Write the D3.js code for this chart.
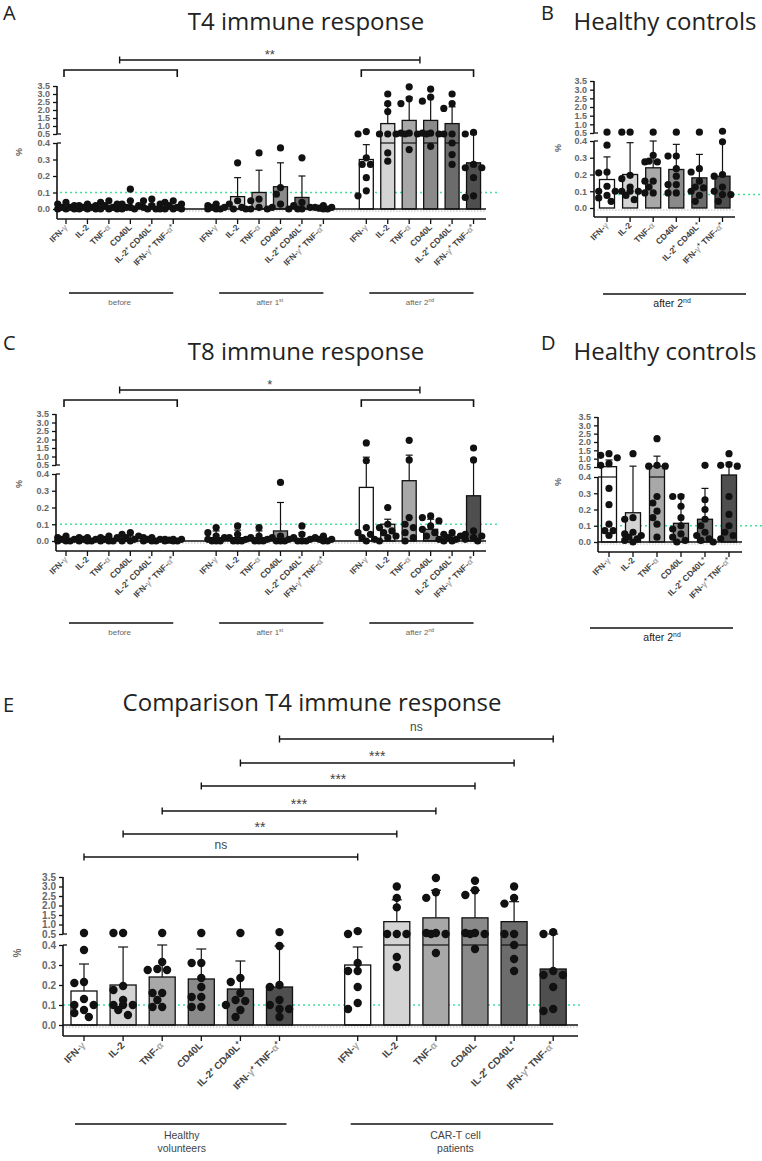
<!DOCTYPE html>
<html><head><meta charset="utf-8">
<script src="https://cdn.jsdelivr.net/npm/d3@7"></script>
<style>body{margin:0;background:#fff}svg{display:block}</style>
</head><body>
<svg id="c" width="762" height="1161"></svg>
<script>
// ---------------- DATA ----------------
const categories = ["IFN-γ","IL-2","TNF-α","CD40L","IL-2⁺ CD40L⁺","IFN-γ⁺ TNF-α⁺"];
const lowerTicks = [0,0.1,0.2,0.3,0.4];
const upperTicks = [0.5,1.0,1.5,2.0,2.5,3.0,3.5];
const barFills = ["#ffffff","#d4d4d4","#a8a8a8","#8a8a8a","#6c6c6c","#4f4f4f"];

// Panel A – T4, before
const t4BeforeMean = [0.005,0.005,0.008,0.015,0.01,0.008];
const t4BeforeSD   = [0.01,0.01,0.015,0.035,0.02,0.015];
const t4BeforeDots = [
  [0,0,0,0.01,0.01,0.02,0.03,0.04],
  [0,0,0,0.01,0.01,0.02,0.02,0.03],
  [0,0,0,0.01,0.02,0.03,0.04,0.05],
  [0,0,0.01,0.01,0.02,0.03,0.05,0.12],
  [0,0,0,0.01,0.02,0.03,0.05,0.06],
  [0,0,0,0.01,0.02,0.03,0.04,0.05]];
// Panel A – T4, after 1st
const t4After1Mean = [0.005,0.075,0.10,0.135,0.07,0.005];
const t4After1SD   = [0.01,0.115,0.135,0.145,0.13,0.008];
const t4After1Dots = [
  [0,0,0,0.01,0.01,0.02,0.03],
  [0,0,0.01,0.03,0.05,0.28],
  [0,0,0.01,0.05,0.06,0.34],
  [0,0.01,0.03,0.09,0.13,0.37],
  [0,0,0.01,0.02,0.04,0.31],
  [0,0,0.005,0.01,0.01,0.02]];
// Panel A / E – T4, after 2nd (CAR-T patients)
const t4After2Mean = [0.30,1.15,1.35,1.35,1.15,0.28];
const t4After2SD   = [0.09,1.15,1.45,1.45,1.05,0.22];
const t4After2Dots = [
  [0.65,0.5,0.31,0.27,0.27,0.19,0.11,0.08],
  [3.0,2.4,1.9,0.5,0.5,0.5,0.34,0.29],
  [3.45,2.7,2.4,0.55,0.55,0.5,0.5,0.36],
  [3.3,2.8,2.55,0.55,0.55,0.5,0.5,0.38],
  [3.0,2.4,2.1,0.5,0.5,0.4,0.33,0.27],
  [0.6,0.5,0.27,0.25,0.25,0.19,0.08,0.07]];
// Panel B / E – healthy controls (T4)
const hcT4Mean = [0.17,0.2,0.24,0.23,0.18,0.19];
const hcT4SD   = [0.135,0.19,0.16,0.15,0.14,0.205];
const hcT4Dots = [
  [0.55,0.375,0.215,0.21,0.13,0.1,0.1,0.075,0.06,0.04],
  [0.55,0.55,0.195,0.175,0.125,0.1,0.1,0.1,0.075,0.05],
  [0.55,0.315,0.28,0.275,0.275,0.16,0.16,0.125,0.09,0.09],
  [0.55,0.31,0.31,0.235,0.19,0.14,0.14,0.09,0.09],
  [0.55,0.235,0.215,0.16,0.125,0.12,0.1,0.075,0.04],
  [0.6,0.395,0.2,0.19,0.125,0.1,0.08,0.08,0.04]];
// Panel C – T8, before
const t8BeforeMean = [0.005,0.005,0.005,0.01,0.005,0.003];
const t8BeforeSD   = [0.01,0.008,0.01,0.02,0.008,0.005];
const t8BeforeDots = [
  [0,0,0,0.01,0.01,0.02,0.03],
  [0,0,0,0.01,0.01,0.02,0.02],
  [0,0,0,0.01,0.02,0.02,0.03],
  [0,0,0.01,0.02,0.03,0.04,0.05],
  [0,0,0,0.01,0.01,0.02,0.02],
  [0,0,0,0.005,0.01,0.01,0.01]];
// Panel C – T8, after 1st
const t8After1Mean = [0.02,0.02,0.02,0.06,0.01,0.01];
const t8After1SD   = [0.04,0.045,0.04,0.17,0.04,0.01];
const t8After1Dots = [
  [0,0,0,0.01,0.02,0.03,0.05,0.08],
  [0,0,0,0.01,0.02,0.04,0.09],
  [0,0,0,0.01,0.02,0.03,0.08],
  [0,0,0,0.01,0.02,0.03,0.35],
  [0,0,0,0.01,0.02,0.04,0.09],
  [0,0,0.01,0.01,0.02,0.03]];
// Panel C – T8, after 2nd
const t8After2Mean = [0.32,0.10,0.36,0.07,0.02,0.27];
const t8After2SD   = [0.64,0.03,0.72,0.06,0.01,0.58];
const t8After2Dots = [
  [1.8,0.75,0.08,0.05,0.04,0.02,0.01,0],
  [0.2,0.1,0.08,0.06,0.05,0.03,0.02,0],
  [1.95,0.8,0.14,0.1,0.08,0.05,0.02,0],
  [0.15,0.14,0.12,0.09,0.07,0.05,0.03,0.01],
  [0.05,0.04,0.03,0.02,0.01,0,0],
  [1.5,0.8,0.06,0.04,0.03,0.02,0.01,0]];
// Panel D – healthy controls (T8)
const hcT8Mean = [0.52,0.18,0.55,0.115,0.14,0.42];
const hcT8SD   = [0.4,0.37,0.6,0.175,0.19,0.35];
const hcT8Dots = [
  [1.3,1.2,1.05,0.7,0.6,0.33,0.23,0.11,0.07,0.07,0.04],
  [1.3,0.15,0.14,0.06,0.05,0.04,0.03,0.02,0.01,0],
  [2.2,0.6,0.55,0.55,0.28,0.24,0.19,0.15,0.11,0.03],
  [0.28,0.28,0.22,0.15,0.1,0.08,0.05,0.03,0.01,0],
  [0.6,0.26,0.2,0.14,0.1,0.06,0.04,0.02,0.01,0],
  [1.3,0.65,0.6,0.55,0.28,0.17,0.1,0.06,0.04,0.02]];

const groupLabelsTime = [["before",""],["after 1","st"],["after 2","nd"]];
const sigT4 = "**", sigT8 = "*";
const sigE = ["ns","**","***","***","***","ns"];

// ---------------- DRAWING ----------------
const svg = d3.select("#c");
const FONT = "'Liberation Sans', Arial, sans-serif";
const TFONT = "'Open Sans', sans-serif";

function swarm(vals, y, r, maxOff) {
  const pts = vals.map(v => ({v, py: y(v), px: 0}));
  const order = pts.slice().sort((a,b)=>a.py-b.py);
  const placed = [];
  const step = r*1.15;
  const cands = [0];
  for (let i=1; i*step<=maxOff; i++) cands.push(-i*step, i*step);
  order.forEach(p => {
    let best = 0, bestD = -1;
    for (const c of cands) {
      let mind = Infinity;
      for (const q of placed) { const d = Math.hypot(c-q.px, p.py-q.py); if (d<mind) mind=d; }
      if (mind >= 2*r*0.95) { best = c; break; }
      if (mind > bestD) { bestD = mind; best = c; }
    }
    p.px = best; placed.push(p);
  });
  return pts;
}

function addLabelText(sel, label) {
  const runs = [];
  for (const ch of label) {
    const type = (ch === "γ" || ch === "α") ? "g" : (ch === "⁺" ? "s" : "n");
    if (runs.length && runs[runs.length-1].type === type) runs[runs.length-1].t += ch;
    else runs.push({type, t: ch});
  }
  runs.forEach(rn => {
    sel.append("tspan").text(rn.t).attr("fill", rn.type === "g" ? "#aaa" : "#444");
  });
}

function drawPanel(cfg, groups) {
  const g = svg.append("g");
  const y = d3.scaleLinear().domain([0,0.4,0.5,3.5]).range(cfg.yRange);
  const yLow = d3.scaleLinear().domain([0,0.4]).range([cfg.yRange[0], cfg.yRange[1]]);
  const yUp = d3.scaleLinear().domain([0.5,3.5]).range([cfg.yRange[2], cfg.yRange[3]]);
  const x = d3.scaleBand().domain(d3.range(cfg.nSlots))
      .range([cfg.c0 - cfg.step/2, cfg.c0 + cfg.step*(cfg.nSlots-0.5)]);
  const cx = k => x(k) + x.bandwidth()/2;

  // reference lines
  g.append("line").attr("x1", cfg.greenX[0]).attr("x2", cfg.greenX[1])
    .attr("y1", y(cfg.greenV)).attr("y2", y(cfg.greenV))
    .attr("stroke", "#3fe39c").attr("stroke-width", 1.5).attr("stroke-dasharray", "2,3");
  g.append("line").attr("x1", cfg.axisX).attr("x2", cfg.xEnd)
    .attr("y1", y(0)+2).attr("y2", y(0)+2)
    .attr("stroke", "#bbb").attr("stroke-width", 1).attr("stroke-dasharray", "1.5,1.5");

  const items = [];
  groups.forEach(gr => gr.means.forEach((m,i) => items.push({
    k: gr.start + i, m, sd: gr.sds[i], dots: gr.dots[i], fill: barFills[i]})));

  // bars
  g.selectAll(null).data(items).join("rect")
    .attr("x", d => cx(d.k) - cfg.barW/2).attr("width", cfg.barW)
    .attr("y", d => y(d.m)).attr("height", d => y(0) - y(d.m))
    .attr("fill", d => d.fill).attr("stroke", "#111").attr("stroke-width", 1.3);
  g.selectAll(null).data(items.filter(d => d.m > 0.45)).join("line")
    .attr("x1", d => cx(d.k) - cfg.barW/2).attr("x2", d => cx(d.k) + cfg.barW/2)
    .attr("y1", y(0.4)).attr("y2", y(0.4)).attr("stroke", "#111").attr("stroke-width", 1.2);

  // error bars
  g.selectAll(null).data(items).join("line")
    .attr("x1", d => cx(d.k)).attr("x2", d => cx(d.k))
    .attr("y1", d => y(d.m)).attr("y2", d => y(d.m + d.sd))
    .attr("stroke", "#111").attr("stroke-width", 1.2);
  g.selectAll(null).data(items).join("line")
    .attr("x1", d => cx(d.k) - cfg.capW/2).attr("x2", d => cx(d.k) + cfg.capW/2)
    .attr("y1", d => y(d.m + d.sd)).attr("y2", d => y(d.m + d.sd))
    .attr("stroke", "#111").attr("stroke-width", 1.2);

  // zero line
  if (cfg.zeroLine) g.append("line").attr("x1", cfg.axisX).attr("x2", cfg.xEnd)
    .attr("y1", y(0)).attr("y2", y(0)).attr("stroke", "#111").attr("stroke-width", 1.3);

  // dots
  items.forEach(d => {
    const pts = swarm(d.dots, y, cfg.r, cfg.barW/2 + cfg.r*0.4);
    g.selectAll(null).data(pts).join("circle")
      .attr("cx", p => cx(d.k) + p.px).attr("cy", p => p.py).attr("r", cfg.r).attr("fill", "#111");
  });

  // y axes (broken)
  const axLow = g.append("g").attr("transform", `translate(${cfg.axisX},0)`)
    .call(d3.axisLeft(yLow).tickValues(lowerTicks).tickSize(4).tickPadding(3).tickFormat(d3.format(".1f")));
  const axUp = g.append("g").attr("transform", `translate(${cfg.axisX},0)`)
    .call(d3.axisLeft(yUp).tickValues(upperTicks).tickSize(4).tickPadding(3).tickFormat(d3.format(".1f")));
  [axLow, axUp].forEach(a => {
    a.select(".domain").remove();
    a.selectAll(".tick line").attr("stroke", "#111").attr("stroke-width", 1.3);
    a.selectAll(".tick text").attr("font-family", FONT).attr("font-size", cfg.tickFs)
      .attr("font-weight", "bold").attr("fill", "#666");
  });
  g.append("line").attr("x1", cfg.axisX).attr("x2", cfg.axisX).attr("y1", y(3.5)).attr("y2", y(0.5))
    .attr("stroke", "#111").attr("stroke-width", 1.6);
  g.append("line").attr("x1", cfg.axisX).attr("x2", cfg.axisX).attr("y1", y(0.4)).attr("y2", cfg.xAxisY)
    .attr("stroke", "#111").attr("stroke-width", 1.6);
  [0.5, 0.4].forEach(v => g.append("line").attr("x1", cfg.axisX).attr("x2", cfg.axisX + 4)
    .attr("y1", y(v)).attr("y2", y(v)).attr("stroke", "#111").attr("stroke-width", 1.3));

  // y label
  g.append("text").attr("transform", `translate(${cfg.pctX},${cfg.pctY}) rotate(-90)`)
    .attr("text-anchor", "middle").attr("font-family", FONT).attr("font-size", cfg.tickFs)
    .attr("font-weight", "bold").attr("fill", "#666").text("%");

  // x axis
  const tickKeys = items.map(d => d.k);
  const axX = g.append("g").attr("transform", `translate(0,${cfg.xAxisY})`)
    .call(d3.axisBottom(x).tickValues(tickKeys).tickSize(5).tickFormat(""));
  axX.select(".domain").remove();
  axX.selectAll(".tick line").attr("stroke", "#111").attr("stroke-width", 1.3);
  g.append("line").attr("x1", cfg.axisX).attr("x2", cfg.xEnd).attr("y1", cfg.xAxisY).attr("y2", cfg.xAxisY)
    .attr("stroke", "#111").attr("stroke-width", 1.6);

  items.forEach((d, i) => {
    const t = g.append("text")
      .attr("transform", `translate(${cx(d.k)+2},${cfg.xAxisY + cfg.lblOff}) rotate(-45)`)
      .attr("text-anchor", "end").attr("font-family", FONT).attr("font-size", cfg.lblFs)
      .attr("font-weight", "bold");
    addLabelText(t, categories[i % 6]);
  });

  return {g, x, cx, y};
}

function sigLine(x1, x2, yy, label, fs, dyTxt) {
  svg.append("line").attr("x1", x1).attr("x2", x2).attr("y1", yy).attr("y2", yy)
    .attr("stroke", "#111").attr("stroke-width", 1.4);
  [x1, x2].forEach(xx => svg.append("line").attr("x1", xx).attr("x2", xx)
    .attr("y1", yy-3.5).attr("y2", yy+3.5).attr("stroke", "#111").attr("stroke-width", 1.4));
  svg.append("text").attr("x", (x1+x2)/2).attr("y", yy + dyTxt).attr("text-anchor", "middle")
    .attr("font-family", FONT).attr("font-size", fs).attr("fill", "#444").text(label);
}
function groupBracket(x1, x2, yy, drop) {
  svg.append("path").attr("d", `M${x1},${yy+drop}V${yy}H${x2}V${yy+drop}`)
    .attr("fill", "none").attr("stroke", "#111").attr("stroke-width", 1.6);
}
function underline(x1, x2, yy) {
  svg.append("line").attr("x1", x1).attr("x2", x2).attr("y1", yy).attr("y2", yy)
    .attr("stroke", "#111").attr("stroke-width", 1.6);
}
function caption(xc, yy, parts, fs, fill) {
  const t = svg.append("text").attr("x", xc).attr("y", yy).attr("text-anchor", "middle")
    .attr("font-family", FONT).attr("font-size", fs).attr("fill", fill);
  t.append("tspan").text(parts[0]);
  if (parts[1]) t.append("tspan").attr("font-size", fs*0.65).attr("dy", -fs*0.4).text(parts[1]);
}
function title(x, yy, txt, fs) {
  svg.append("text").attr("x", x).attr("y", yy).attr("text-anchor", "middle")
    .attr("font-family", TFONT).attr("font-size", fs).attr("fill", "#222").text(txt);
}
function letter(x, yy, txt) {
  svg.append("text").attr("x", x).attr("y", yy).attr("font-family", TFONT)
    .attr("font-size", 20).attr("fill", "#222").text(txt);
}

// ---- Panel A ----
const cfgA = {c0:66, step:21.45, nSlots:20, yRange:[209,143,134,86], axisX:57, xEnd:486, xAxisY:219,
  barW:14, r:3.6, capW:7, tickFs:9, lblFs:8.5, lblOff:9, greenV:0.1, greenX:[60,500],
  zeroLine:true, pctX:22, pctY:152};
const pA = drawPanel(cfgA, [
  {start:0, means:t4BeforeMean, sds:t4BeforeSD, dots:t4BeforeDots},
  {start:7, means:t4After1Mean, sds:t4After1SD, dots:t4After1Dots},
  {start:14, means:t4After2Mean, sds:t4After2SD, dots:t4After2Dots}]);

// ---- Panel C ----
const cfgC = Object.assign({}, cfgA, {yRange:[541,474,465,414], axisX:56, xAxisY:551, pctY:484});
const pC = drawPanel(cfgC, [
  {start:0, means:t8BeforeMean, sds:t8BeforeSD, dots:t8BeforeDots},
  {start:7, means:t8After1Mean, sds:t8After1SD, dots:t8After1Dots},
  {start:14, means:t8After2Mean, sds:t8After2SD, dots:t8After2Dots}]);

[[pA, 60, 70, 293, sigT4], [pC, 390, 400, 623, sigT8]].forEach(([p, ySig, yBr, yUl, sig]) => {
  const mid = s => (p.cx(s) + p.cx(s+5))/2;
  sigLine(mid(0), mid(14), ySig, sig, 13, -1);
  groupBracket(p.cx(0)-2, p.cx(5)+4, yBr, 7);
  groupBracket(p.cx(14)-5, p.cx(19), yBr, 7);
  [0,7,14].forEach((s, gi) => {
    underline(p.cx(s)+3, p.cx(s+5), yUl);
    caption(mid(s), yUl + 12, groupLabelsTime[gi], 8, "#666");
  });
});

// ---- Panel B ----
const cfgB = {c0:607, step:23.1, nSlots:6, yRange:[208,141,133,81], axisX:594, xEnd:735, xAxisY:217,
  barW:15, r:3.6, capW:7, tickFs:9, lblFs:8.5, lblOff:9, greenV:0.08, greenX:[598,762],
  zeroLine:false, pctX:561, pctY:148};
drawPanel(cfgB, [{start:0, means:hcT4Mean, sds:hcT4SD, dots:hcT4Dots}]);
underline(603, 746, 294);
caption(672, 307, ["after 2","nd"], 10.5, "#222");

// ---- Panel D ----
const cfgD = Object.assign({}, cfgB, {c0:609, step:24, yRange:[542,477,467,417], axisX:598, xEnd:742,
  xAxisY:552, greenV:0.1, greenX:[600,762], zeroLine:true, pctY:482});
drawPanel(cfgD, [{start:0, means:hcT8Mean, sds:hcT8SD, dots:hcT8Dots}]);
underline(590, 733, 628);
caption(662, 641, ["after 2","nd"], 10.5, "#222");

// ---- Panel E ----
const cfgE = {c0:84, step:39.1, nSlots:13, yRange:[1025,945,934,877], axisX:63, xEnd:578, xAxisY:1036,
  barW:26, r:4.2, capW:10, tickFs:10, lblFs:10, lblOff:10, greenV:0.1, greenX:[63,583],
  zeroLine:true, pctX:21, pctY:953};
const pE = drawPanel(cfgE, [
  {start:0, means:hcT4Mean, sds:hcT4SD, dots:hcT4Dots},
  {start:7, means:t4After2Mean, sds:t4After2SD, dots:t4After2Dots}]);
const eY = [857, 834, 811, 786, 763, 739];
sigE.forEach((s, i) => {
  const isNs = s === "ns";
  sigLine(pE.cx(i), pE.cx(i+7), eY[i], s, isNs ? 12 : 14, isNs ? -8 : -2);
});
underline(pE.cx(0)-9, pE.cx(5)+7, 1124);
underline(pE.cx(7)-7, pE.cx(12)+0, 1124);
[["Healthy","volunteers"], ["CAR-T cell","patients"]].forEach((lines, gi) => {
  const xc = gi === 0 ? (pE.cx(0)+pE.cx(5))/2 : (pE.cx(7)+pE.cx(12))/2;
  lines.forEach((ln, li) => svg.append("text").attr("x", xc).attr("y", 1139 + li*13)
    .attr("text-anchor", "middle").attr("font-family", FONT).attr("font-size", 10.5)
    .attr("fill", "#444").text(ln));
});

// ---- Titles & letters ----
letter(3, 20, "A"); title(306, 30, "T4 immune response", 24);
letter(541, 20, "B"); title(665, 30, "Healthy controls", 24);
letter(3, 350, "C"); title(306, 360, "T8 immune response", 24);
letter(541, 350, "D"); title(665, 360, "Healthy controls", 24);
letter(3, 712, "E"); title(312, 711, "Comparison T4 immune response", 24);
</script>
</body></html>
